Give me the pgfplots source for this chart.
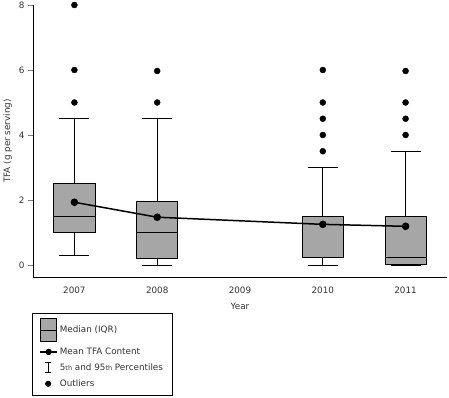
\documentclass[border=0pt]{standalone}
\usepackage{pgfplots}
\pgfplotsset{compat=1.18}
\usepgfplotslibrary{statistics}
\usepackage{fontspec}
\setmainfont{DejaVu Sans}
\definecolor{boxgray}{HTML}{A6A6A6}
\definecolor{txtgray}{HTML}{333333}
\begin{document}
\begin{tikzpicture}
\begin{axis}[
  at={(0,0)}, anchor=south west,
  scale only axis, width=414pt, height=272pt,
  xmin=-0.5, xmax=4.5, ymin=-0.37, ymax=8,
  axis x line=bottom, axis y line=left,
  axis line style={-, line width=0.9pt},
  xtick={0,1,2,3,4},
  xticklabels={2007,2008,2009,2010,2011},
  xtick style={draw=none},
  ytick={0,2,4,6,8},
  ytick style={line width=0.9pt},
  tick align=outside, major tick length=5pt,
  /pgf/number format/assume math mode=true,
  ticklabel style={font=\fontsize{8.8}{10}\selectfont, text=txtgray},
  xticklabel style={yshift=-1pt},
  xlabel={Year}, ylabel={TFA (g per serving)},
  label style={font=\fontsize{8.8}{10}\selectfont, text=txtgray},
  xlabel style={yshift=-3pt},
  boxplot/draw direction=y,
  legend style={at={(axis description cs:0,0)}, anchor=north west,
    xshift=-1pt, yshift=-36pt, draw=black, line width=0.8pt,
    font=\fontsize{8.8}{10}\selectfont, text=txtgray,
    inner xsep=7pt, inner ysep=5pt,
    row sep=3.8pt, cells={anchor=west}},
  legend cell align=left,
]
\addlegendimage{legend image code/.code={
  \draw[fill=boxgray, line width=0.7pt] (0pt,-11.5pt) rectangle (16pt,11.5pt);
  \draw[line width=0.7pt] (0pt,0pt)--(16pt,0pt);}}
\addlegendimage{legend image code/.code={
  \draw[line width=1.5pt] (0pt,0pt)--(17pt,0pt);
  \fill (8.5pt,0pt) circle (2.8pt);}}
\addlegendimage{legend image code/.code={
  \draw[line width=0.7pt] (8pt,-5pt)--(8pt,5pt);
  \draw[line width=0.7pt] (5pt,-5pt)--(11pt,-5pt);
  \draw[line width=0.7pt] (5pt,5pt)--(11pt,5pt);}}
\addlegendimage{legend image code/.code={
  \fill (8pt,0pt) circle (2.6pt);}}
\legend{Median (IQR), Mean TFA Content, {5{\fontsize{6.5}{7}\selectfont th} and 95{\fontsize{6.5}{7}\selectfont th} Percentiles}, Outliers}

\pgfplotsset{boxplot/every box/.style={fill=boxgray, draw=black, line width=0.8pt},
  boxplot/every whisker/.style={black, line width=0.8pt},
  boxplot/every median/.style={black, line width=0.8pt}}

\addplot[forget plot, only marks, mark=*, mark size=3pt, black,
  boxplot prepared={draw position=0, lower whisker=0.3, lower quartile=1.0,
    median=1.5, upper quartile=2.5, upper whisker=4.5, box extend=0.5, whisker extend=0.36}]
  table[row sep=\\, y index=0] {5\\6\\8\\};
\addplot[forget plot, only marks, mark=*, mark size=3pt, black,
  boxplot prepared={draw position=1, lower whisker=0.0, lower quartile=0.2,
    median=1.0, upper quartile=1.97, upper whisker=4.5, box extend=0.5, whisker extend=0.36}]
  table[row sep=\\, y index=0] {5\\5.97\\};
\addplot[forget plot, only marks, mark=*, mark size=3pt, black,
  boxplot prepared={draw position=3, lower whisker=0.0, lower quartile=0.24,
    median=0.24, upper quartile=1.5, upper whisker=3.0, box extend=0.5, whisker extend=0.36}]
  table[row sep=\\, y index=0] {3.5\\4\\4.5\\5\\6\\};
\addplot[forget plot, only marks, mark=*, mark size=3pt, black,
  boxplot prepared={draw position=4, lower whisker=0.0, lower quartile=0.03,
    median=0.24, upper quartile=1.5, upper whisker=3.5, box extend=0.5, whisker extend=0.36}]
  table[row sep=\\, y index=0] {4\\4.5\\5\\5.97\\};

\addplot[forget plot, black, line width=1.5pt, mark=*, mark size=3pt]
  coordinates {(0,1.93) (1,1.47) (3,1.25) (4,1.19)};
\end{axis}
\pgfresetboundingbox
\path (-33pt,-120pt) rectangle (416pt,277pt);
\end{tikzpicture}
\end{document}
